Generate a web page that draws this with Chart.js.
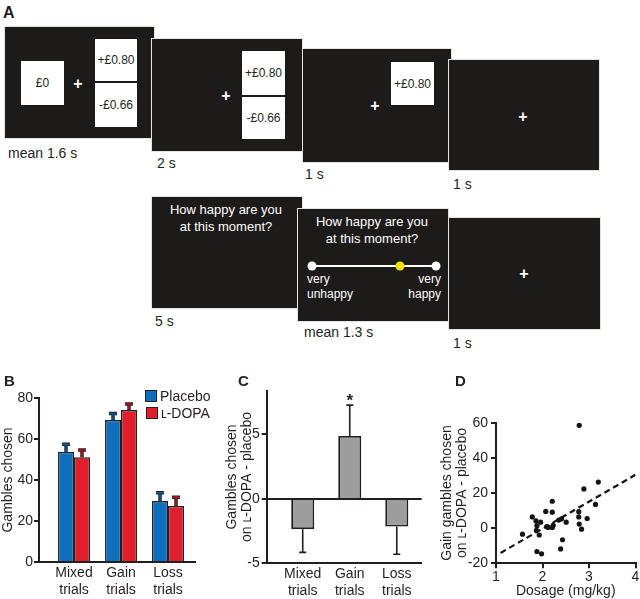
<!DOCTYPE html>
<html lang="en">
<head>
<meta charset="UTF-8">
<title>Gambling task and L-DOPA</title>
<script src="https://cdn.jsdelivr.net/npm/chart.js@4"></script>
<style>
  body { margin: 0; background: #fff; font-family: "Liberation Sans", Arial, sans-serif; color: #231f20; }
  #page { position: relative; width: 640px; height: 599px; overflow: hidden; }
  .scr { position: absolute; background: #1d1a1a; border: 1px solid #e4e4e4; box-sizing: border-box; }
  .plus { position: absolute; color: #fff; font-weight: bold; font-size: 16px; line-height: 16px; transform: translate(-50%, -50%); }
  .box { position: absolute; background: #fff; font-size: 12px; display: flex; align-items: center; justify-content: center; }
  .cap { position: absolute; font-size: 14px; line-height: 14px; white-space: nowrap; }
  .q { position: absolute; color: #fff; font-size: 13px; line-height: 16.5px; text-align: center; }
  .end { position: absolute; color: #fff; font-size: 12px; line-height: 15px; }
  .dot { position: absolute; width: 9px; height: 9px; border-radius: 50%; background: #fff; transform: translate(-50%, -50%); }
  .panel { position: absolute; font-weight: bold; font-size: 15px; line-height: 15px; }
  .key { position: absolute; width: 12px; height: 12px; border: 1px solid #231f20; box-sizing: border-box; }
  .keytext { position: absolute; font-size: 14px; line-height: 14px; }
  canvas { position: absolute; }
</style>
</head>
<body>
<div id="page">
  <div class="panel" style="left:3px;top:5px;font-size:16px;line-height:16px">A</div>

  <!-- gamble choice screens -->
  <div class="scr" style="left:4px;top:26px;width:151px;height:113px"></div>
  <div class="box" style="left:21px;top:61px;width:43px;height:44px">£0</div>
  <div class="plus" style="left:78px;top:84px">+</div>
  <div class="box" style="left:95px;top:39px;width:42px;height:42px">+£0.80</div>
  <div class="box" style="left:95px;top:83px;width:42px;height:44px">-£0.66</div>
  <div class="cap" style="left:8px;top:146px">mean 1.6 s</div>

  <div class="scr" style="left:151px;top:38px;width:152px;height:114px"></div>
  <div class="box" style="left:242px;top:51px;width:43px;height:44px">+£0.80</div>
  <div class="box" style="left:242px;top:97px;width:43px;height:42px">-£0.66</div>
  <div class="plus" style="left:226px;top:96px">+</div>
  <div class="cap" style="left:157px;top:156px">2 s</div>

  <div class="scr" style="left:302px;top:48px;width:150px;height:115px"></div>
  <div class="box" style="left:391px;top:62px;width:43px;height:43px">+£0.80</div>
  <div class="plus" style="left:375px;top:106px">+</div>
  <div class="cap" style="left:305px;top:167px">1 s</div>

  <div class="scr" style="left:448px;top:59px;width:152px;height:112px"></div>
  <div class="plus" style="left:523px;top:117px">+</div>
  <div class="cap" style="left:453px;top:177px">1 s</div>

  <!-- happiness rating screens -->
  <div class="scr" style="left:151px;top:196px;width:152px;height:113px"></div>
  <div class="q" style="left:151px;top:202px;width:150px">How happy are you<br>at this moment?</div>
  <div class="cap" style="left:155px;top:314px">5 s</div>

  <div class="scr" style="left:297px;top:208px;width:152px;height:114px"></div>
  <div class="q" style="left:297px;top:214px;width:150px">How happy are you<br>at this moment?</div>
  <div style="position:absolute;left:312px;top:265px;width:124px;height:2px;background:#fff"></div>
  <div class="dot" style="left:312px;top:266px"></div>
  <div class="dot" style="left:436px;top:266px"></div>
  <div class="dot" style="left:400px;top:266px;background:#f4e000"></div>
  <div class="end" style="left:307px;top:272px">very<br>unhappy</div>
  <div class="end" style="left:381px;top:272px;width:60px;text-align:right">very<br>happy</div>
  <div class="cap" style="left:304px;top:325px">mean 1.3 s</div>

  <div class="scr" style="left:448px;top:217px;width:153px;height:113px"></div>
  <div class="plus" style="left:524px;top:274px">+</div>
  <div class="cap" style="left:453px;top:336px">1 s</div>

  <canvas id="chartB" width="210" height="219" style="left:0;top:380px"></canvas>
  <canvas id="chartC" width="210" height="219" style="left:215px;top:380px"></canvas>
  <canvas id="chartD" width="215" height="219" style="left:425px;top:380px"></canvas>

  <div class="panel" style="left:4px;top:373px">B</div>
  <div class="panel" style="left:238px;top:373px">C</div>
  <div class="panel" style="left:455px;top:373px">D</div>

  <div class="key" style="left:145px;top:390px;background:#0e6fbd"></div>
  <div class="keytext" style="left:160px;top:389px">Placebo</div>
  <div class="key" style="left:146px;top:407px;background:#e31e2b"></div>
  <div class="keytext" style="left:161px;top:406px">ʟ-DOPA</div>
</div>

<script>
  // B: gambles chosen per trial type
  const categories = ['Mixed trials', 'Gain trials', 'Loss trials'];
  const placeboMean = [53.8, 69.3, 29.8];
  const placeboErr = [3.6, 3.2, 4.0];
  const ldopaMean = [51.1, 74.1, 27.3];
  const ldopaErr = [3.5, 3.0, 4.3];
  const yTicksB = [0, 20, 40, 60, 80];

  // C: L-DOPA minus placebo
  const diffMean = [-2.35, 4.88, -2.15];
  const diffErr = [1.8, 2.4, 2.15];
  const sigMarks = ['', '*', ''];
  const yTicksC = [-5, 0, 5];

  // D: dosage vs gain gambles difference
  const dosage = [1.57, 1.78, 1.86, 1.96, 1.88, 1.87, 1.93, 1.88, 1.98, 2.07, 2.21, 2.21, 2.09, 2.12, 2.21, 2.23,
                  2.35, 2.41, 2.51, 2.43, 2.39, 2.78, 2.78, 2.79, 2.84, 2.96, 2.89, 3.14, 3.20, 2.79];
  const gainDiff = [-3.4, 6.4, 4.1, 3.4, 1.4, -1.3, -3.9, -13.3, -14.6, 9.5, 15.3, 9.1, 0.9, 0.4, 0.4, 1.6,
                    4.6, 5.3, 3.4, -6.6, -11.8, 9.4, 6.4, 2.3, -0.6, 5.5, 22.3, 13.5, 26.2, 58.5];
  const fitX = [1.1, 4];
  const fitY = [-14.1, 30.4];
  const xTicksD = [1, 2, 3, 4];
  const yTicksD = [-20, 0, 20, 40, 60];

  const ink = '#231f20';
  const font = { family: '"Liberation Sans", Arial, sans-serif', size: 14 };
  const titleFont = { family: '"Liberation Sans", Arial, sans-serif', size: 14, lineHeight: 1.1 };
  const catPos = categories.map((c, i) => i + 1);

  const fixedTicks = values => scale => { scale.ticks = values.map(v => ({ value: v })); };

  // error bars drawn away from zero, plus significance marks
  const errorBars = {
    id: 'errorBars',
    afterDatasetsDraw(chart) {
      const ctx = chart.ctx;
      const yScale = chart.scales.y;
      chart.data.datasets.forEach((ds, di) => {
        if (!ds.errors) return;
        chart.getDatasetMeta(di).data.forEach((bar, i) => {
          const v = ds.data[i].y;
          const dir = v < 0 ? -1 : 1;
          const y0 = yScale.getPixelForValue(v);
          const y1 = yScale.getPixelForValue(v + dir * ds.errors[i]);
          const x = bar.x;
          ctx.save();
          ctx.lineCap = 'butt';
          const path = () => {
            ctx.beginPath();
            ctx.moveTo(x, y0);
            ctx.lineTo(x, y1);
            ctx.moveTo(x - ds.capHalf, y1);
            ctx.lineTo(x + ds.capHalf, y1);
            ctx.stroke();
          };
          ctx.strokeStyle = ink;
          ctx.lineWidth = ds.errInner ? 3.5 : 1.6;
          path();
          if (ds.errInner) {
            ctx.strokeStyle = ds.errInner;
            ctx.lineWidth = 1.5;
            path();
          }
          if (ds.marks && ds.marks[i]) {
            ctx.fillStyle = ink;
            ctx.font = 'bold 17px "Liberation Sans", Arial, sans-serif';
            ctx.textAlign = 'center';
            ctx.textBaseline = 'alphabetic';
            ctx.fillText(ds.marks[i], x, y1 + 1);
          }
          ctx.restore();
        });
      });
    }
  };

  const yAxisBase = {
    grid: { drawOnChartArea: false, drawTicks: true, tickLength: 5, color: ink, lineWidth: 2 },
    border: { color: ink, width: 2 },
    ticks: { font, color: ink, padding: 1 }
  };

  new Chart(document.getElementById('chartB'), {
    type: 'bar',
    data: {
      datasets: [
        { label: 'Placebo', data: catPos.map((x, i) => ({ x, y: placeboMean[i] })), errors: placeboErr,
          backgroundColor: '#0e6fbd', borderColor: ink, borderWidth: 1.5, errInner: '#0e5a9c', capHalf: 4 },
        { label: 'ʟ-DOPA', data: catPos.map((x, i) => ({ x, y: ldopaMean[i] })), errors: ldopaErr,
          backgroundColor: '#e31e2b', borderColor: ink, borderWidth: 1.5, errInner: '#b8161f', capHalf: 4 }
      ]
    },
    options: {
      responsive: false,
      animation: false,
      layout: { padding: { top: 18, right: 15, left: 0, bottom: 0 } },
      plugins: { legend: { display: false }, tooltip: { enabled: false } },
      datasets: { bar: { categoryPercentage: 0.68, barPercentage: 1 } },
      scales: {
        x: {
          type: 'linear', offset: false, min: 0.255, max: 3.574,
          afterBuildTicks: fixedTicks(catPos),
          afterFit: s => { s.height = 37; },
          grid: { display: false, drawTicks: false, offset: false },
          border: { color: ink, width: 2 },
          ticks: { font, color: ink, padding: 3, callback: v => categories[v - 1].split(' ') }
        },
        y: {
          ...yAxisBase,
          min: 0, max: 80,
          afterBuildTicks: fixedTicks(yTicksB),
          afterFit: s => { s.width = 39; },
          title: { display: true, text: 'Gambles chosen', font, color: ink, padding: 0 }
        }
      }
    },
    plugins: [errorBars]
  });

  new Chart(document.getElementById('chartC'), {
    type: 'bar',
    data: {
      datasets: [
        { label: 'ʟ-DOPA - placebo', data: catPos.map((x, i) => ({ x, y: diffMean[i] })), errors: diffErr, marks: sigMarks,
          backgroundColor: '#9d9d9d', borderColor: ink, borderWidth: 1.8, capHalf: 3.5 }
      ]
    },
    options: {
      responsive: false,
      animation: false,
      layout: { padding: { top: 10.7, right: 3.3, left: 0, bottom: 0 } },
      plugins: { legend: { display: false }, tooltip: { enabled: false } },
      datasets: { bar: { categoryPercentage: 0.49, barPercentage: 1 } },
      scales: {
        x: {
          type: 'linear', offset: false, min: 0.234, max: 3.53,
          afterBuildTicks: fixedTicks(catPos),
          afterFit: s => { s.height = 35.7; },
          grid: { display: false, drawTicks: false, offset: false },
          border: { color: ink, width: 2 },
          ticks: { font, color: ink, padding: 2.6, callback: v => categories[v - 1].split(' ') }
        },
        y: {
          ...yAxisBase,
          min: -5, max: 8.4,
          grid: {
            drawOnChartArea: true, drawTicks: true, tickLength: 5, lineWidth: 2, tickColor: ink,
            color: c => (c.tick && c.tick.value === 0 ? ink : 'rgba(0,0,0,0)')
          },
          afterBuildTicks: fixedTicks(yTicksC),
          afterFit: s => { s.width = 51.7; },
          ticks: { font, color: ink, padding: 2 },
          title: { display: true, text: ['Gambles chosen', 'on ʟ-DOPA - placebo'], font: titleFont, color: ink, padding: { top: 9 } }
        }
      }
    },
    plugins: [errorBars]
  });

  new Chart(document.getElementById('chartD'), {
    type: 'scatter',
    data: {
      datasets: [
        { label: 'Participants', data: dosage.map((x, i) => ({ x, y: gainDiff[i] })),
          pointRadius: 2.6, backgroundColor: '#151313', borderWidth: 0 },
        { type: 'line', label: 'Fit', data: fitX.map((x, i) => ({ x, y: fitY[i] })),
          borderColor: '#151313', borderWidth: 2.2, borderDash: [6, 4], pointRadius: 0, fill: false }
      ]
    },
    options: {
      responsive: false,
      animation: false,
      layout: { padding: { top: 42.7, right: 4.5, left: 0, bottom: 0 } },
      plugins: { legend: { display: false }, tooltip: { enabled: false } },
      scales: {
        x: {
          type: 'linear', min: 1, max: 4,
          afterBuildTicks: fixedTicks(xTicksD),
          afterFit: s => { s.height = 35.7; },
          grid: { drawOnChartArea: false, drawTicks: true, tickLength: 5, color: ink, lineWidth: 2 },
          border: { color: ink, width: 2 },
          ticks: { font, color: ink, padding: 0 },
          title: { display: true, text: 'Dosage (mg/kg)', font, color: ink, padding: { top: 0, bottom: -1 } }
        },
        y: {
          ...yAxisBase,
          min: -20, max: 60,
          afterBuildTicks: fixedTicks(yTicksD),
          afterFit: s => { s.width = 71; },
          ticks: { font, color: ink, padding: 3 },
          title: { display: true, text: ['Gain gambles chosen', 'on ʟ-DOPA - placebo'], font: titleFont, color: ink, padding: { top: 14 } }
        }
      }
    }
  });
</script>
</body>
</html>
